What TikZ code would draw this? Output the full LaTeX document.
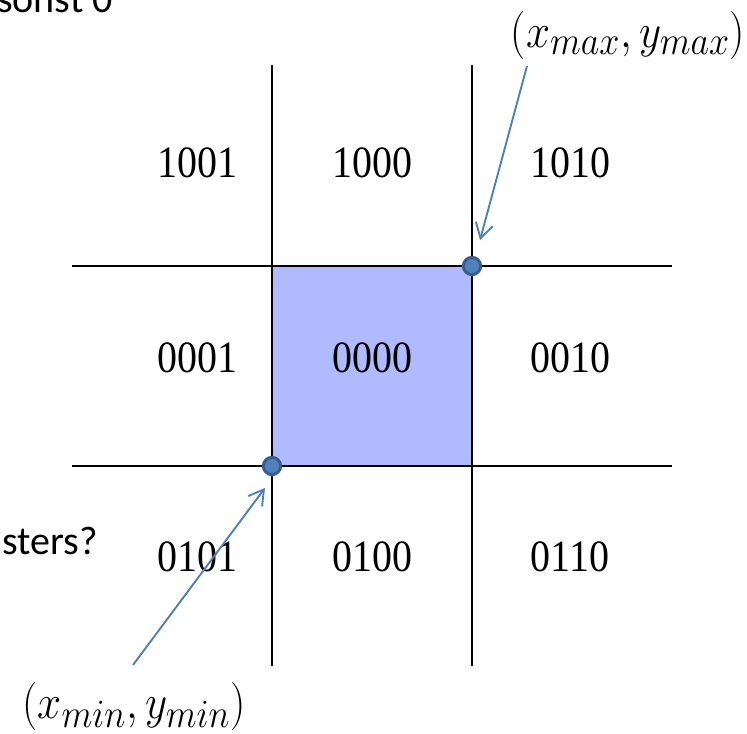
\documentclass[tikz,border=0pt]{standalone}
\usepackage{fontspec}
\newfontfamily\cellfont{Liberation Serif}
\newfontfamily\slidefont{Carlito}
\usetikzlibrary{arrows.meta,calc}
\definecolor{regionblue}{HTML}{B0BAFF}
\definecolor{pointblue}{HTML}{4F81BD}
\definecolor{pointedge}{HTML}{385D8A}
\definecolor{arrowblue}{HTML}{4A7EBF}

\begin{document}
\begin{tikzpicture}[x=0.75pt,y=-0.75pt,
    gridline/.style={line width=1.9pt,black},
    code/.style={font=\cellfont\fontsize{30}{34}\selectfont,inner sep=0pt},
    slide/.style={font=\slidefont\fontsize{30}{34}\selectfont,inner sep=0pt},
    corner/.style={font=\fontsize{24.88}{30}\selectfont,inner sep=0pt},
    pointer/.style={arrowblue,line width=1.4pt,-{Straight Barb[length=11pt,width=13pt,line width=1.4pt]}},
    dot/.style={circle,fill=pointblue,draw=pointedge,line width=2.2pt,minimum size=13pt,inner sep=0pt}]
  \useasboundingbox (0,0) rectangle (747,734);
  \clip (0,0) rectangle (747,734);
  % window and clip lines
  \fill[regionblue] (272,266) rectangle (472,466);
  \foreach \x in {272,472}
    \draw[gridline] (\x,65) -- (\x,666);
  \foreach \y in {266,466}
    \draw[gridline] (72,\y) -- (672,\y);
  % region codes
  \foreach \x/\y/\c in {197/163/1001,372/163/1000,570/163/1010,
                        197/358/0001,372/358/0000,570/358/0010,
                        197/557/0101,372/557/0100,570/557/0110}
    \node[code] (c\c) at (\x,\y) {\scalebox{1}[1.12]{\c}};
  % cut-off slide text
  \node[slide,anchor=base west] (sonst) at (-3,13) {sonst 0};
  \node[slide,anchor=base east] (sters) at (98,555) {sters?};
  % corner labels
  \node[corner] (maxlbl) at (628,35) {\scalebox{1.3}[1.45]{$(x_{max},y_{max})$}};
  \node[corner] (minlbl) at (134,706) {\scalebox{1.3}[1.45]{$(x_{min},y_{min})$}};
  \node[dot] (maxdot) at (472,266) {};
  \node[dot] (mindot) at (272,466) {};
  \coordinate (maxtail) at (527,66);
  \coordinate (mintail) at (133,665);
  \draw[pointer] (maxtail) -- ($(maxdot)+(8,-26)$);
  \draw[pointer] (mintail) -- ($(mindot)+(-7,22)$);
\end{tikzpicture}
\end{document}
